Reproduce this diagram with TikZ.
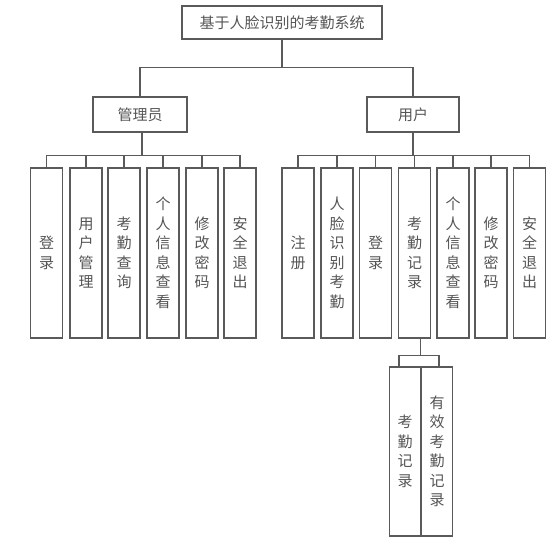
\documentclass[tikz,border=0pt]{standalone}
\usepackage{fontspec}
\newfontfamily\cjk{Noto Sans CJK SC}
\definecolor{linec}{HTML}{5A5A5A}
\definecolor{textc}{HTML}{555555}
\begin{document}
\begin{tikzpicture}[x=1pt,y=-1pt,
  box/.style={draw=linec, line width=1.3pt, text=textc, inner sep=0pt, font=\cjk\fontsize{15}{19.5}\selectfont, align=center},
  hbox/.style={box, minimum height=35pt},
  vbox/.style={box, minimum width=32pt, minimum height=170pt},
  sbox/.style={box, minimum width=31pt, minimum height=169pt},
  conn/.style={draw=linec, line width=1.3pt}]
\useasboundingbox (0,0) rectangle (560,556);
\fill[white] (0,0) rectangle (560,556);

\node[box, minimum width=200pt, minimum height=33pt] (title) at (282,22.5) {基于人脸识别的考勤系统};
\node[hbox, minimum width=94pt] (admin) at (140,114.5) {管理员};
\node[hbox, minimum width=92pt] (user) at (413,114.5) {用户};

\node[vbox] (a1) at (46.5,253) {登\\录};
\node[vbox] (a2) at (86,253) {用\\户\\管\\理};
\node[vbox] (a3) at (124,253) {考\\勤\\查\\询};
\node[vbox] (a4) at (163,253) {个\\人\\信\\息\\查\\看};
\node[vbox] (a5) at (202,253) {修\\改\\密\\码};
\node[vbox] (a6) at (240,253) {安\\全\\退\\出};

\node[vbox] (u1) at (298,253) {注\\册};
\node[vbox] (u2) at (337,253) {人\\脸\\识\\别\\考\\勤};
\node[vbox] (u3) at (375.5,253) {登\\录};
\node[vbox] (u4) at (414.5,253) {考\\勤\\记\\录};
\node[vbox] (u5) at (453,253) {个\\人\\信\\息\\查\\看};
\node[vbox] (u6) at (491,253) {修\\改\\密\\码};
\node[vbox] (u7) at (529.5,253) {安\\全\\退\\出};

\node[sbox] (s1) at (405,451.5) {考\\勤\\记\\录};
\node[sbox] (s2) at (437,451.5) {有\\效\\考\\勤\\记\\录};

% top level connectors
\draw[conn] (title.south) -- ++(0,28) coordinate (th);
\draw[conn] (th) -| (admin.north);
\draw[conn] (th) -| (user.north);

% admin connectors
\draw[conn] ([xshift=2pt]admin.south) -- ++(0,23) coordinate (ah);
\foreach \c in {a1,a2,a3,a4,a5,a6} \draw[conn] (ah) -| (\c.north);

% user connectors
\draw[conn] (user.south) -- ++(0,23) coordinate (uh);
\foreach \c in {u1,u2,u3,u4,u5,u6,u7} \draw[conn] (uh) -| (\c.north);

% sub connectors
\draw[conn] ([xshift=6pt]u4.south) -- ++(0,17) coordinate (sh);
\draw[conn] (sh) -| ([xshift=-6pt]s1.north);
\draw[conn] (sh) -| ([xshift=2pt]s2.north);
\end{tikzpicture}
\end{document}
